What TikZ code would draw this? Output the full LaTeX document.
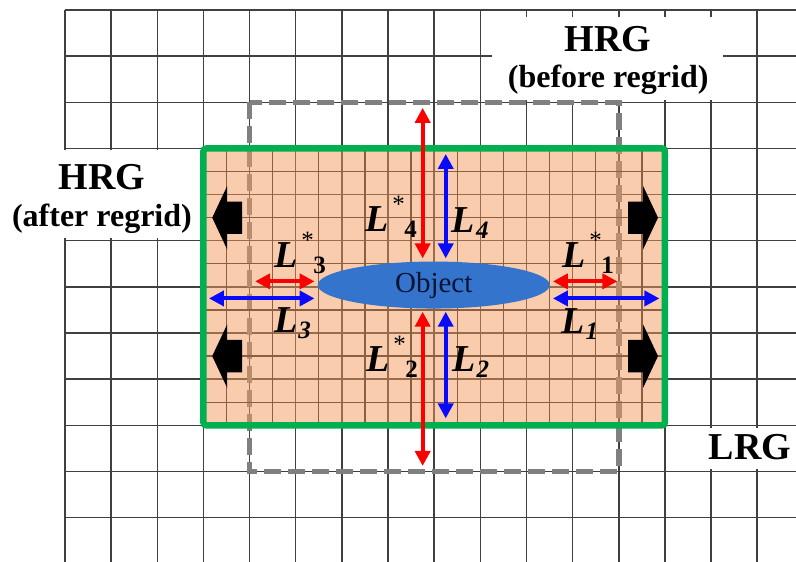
\documentclass[tikz,border=0pt]{standalone}
\usepackage{fontspec}
\setmainfont{Liberation Serif}
\usepackage{xcolor}
\usetikzlibrary{shapes.geometric,arrows.meta,positioning}

\definecolor{lrggreen}{RGB}{0,176,80}
\definecolor{hrgpeach}{RGB}{241,153,89}
\definecolor{objblue}{RGB}{52,116,204}
\definecolor{objtext}{RGB}{10,20,50}
\definecolor{oldgray}{RGB}{128,128,128}
\definecolor{lenred}{RGB}{250,0,0}
\definecolor{lenblue}{RGB}{10,10,250}

% L with star and index, and plain L with index
\newcommand{\Lst}[1]{\textbf{\textit{L}}\kern4bp\rlap{\raisebox{19bp}{\fontsize{25bp}{25bp}\selectfont *}}\kern12bp\raisebox{-6bp}{\fontsize{25bp}{25bp}\selectfont\textbf{#1}}}
\newcommand{\Lpl}[1]{\textbf{\textit{L}}\kern1bp\raisebox{-6bp}{\fontsize{25bp}{25bp}\selectfont\textbf{\textit{#1}}}}

\tikzset{
	coarse/.style={line width=1.5bp, black!75},
	fine/.style={line width=1.3bp, black!85},
	redlen/.style={line width=4bp, lenred, shorten >=3bp, {Triangle[length=15bp,width=15bp]}-{Triangle[length=15bp,width=15bp]}},
	bluelen/.style={line width=4bp, lenblue, shorten >=3bp, {Triangle[length=15bp,width=15bp]}-{Triangle[length=15bp,width=15bp]}},
	lenlabel/.style={anchor=base west, inner sep=0pt, font=\fontsize{38bp}{38bp}\selectfont},
	gridtitle/.style={anchor=base, inner sep=0pt, font=\fontsize{38bp}{38bp}\selectfont\bfseries},
	gridsub/.style={anchor=base, inner sep=0pt, font=\fontsize{32bp}{32bp}\selectfont\bfseries},
	blkarrow/.pic={\fill (0,0) -- (0.325,0.69) -- (0.325,0.35) -- (0.65,0.35) -- (0.65,-0.35) -- (0.325,-0.35) -- (0.325,-0.69) -- cycle;}
}

\begin{document}
\begin{tikzpicture}[x=46.15bp, y=-46.15bp]
	\useasboundingbox (-1.4085,-0.2167) rectangle (15.840,11.961);
	
	% LRG (coarse grid)
	\foreach \i in {0,...,15}
		\draw[coarse] (\i,0) -- (\i,11.961);
	\foreach \j in {0,...,11}
		\draw[coarse] (0,\j) -- (15.84,\j);
	
	% white boxes behind the titles
	\fill[white] (9.25,0.15) rectangle (14.26,1.95);
	\fill[white] (-1.41,3.03) rectangle (2.93,4.94);
	\fill[white] (13.3,9.05) rectangle (15.84,9.95);
	
	% HRG before regrid
	\draw[oldgray, line width=5.5bp, dash pattern=on 17bp off 7bp] (4,2) rectangle (12,10);
	
	% HRG after regrid (fine grid)
	\foreach \i in {3.5,4.5,...,12.5}
		\draw[fine] (\i,3) -- (\i,9);
	\foreach \j in {3.5,4.5,...,8.5}
		\draw[fine] (3,\j) -- (13,\j);
	\fill[hrgpeach, fill opacity=0.5] (3,3) rectangle (13,9);
	\draw[lrggreen, line width=6.5bp, rounded corners=3bp] (3,3) rectangle (13,9);
	
	% regrid directions
	\pic at (3.19,4.5) {blkarrow};
	\pic at (3.19,7.5) {blkarrow};
	\pic[xscale=-1] at (12.85,4.5) {blkarrow};
	\pic[xscale=-1] at (12.85,7.5) {blkarrow};
	
	% object
	\node[ellipse, fill=objblue, minimum width=232bp, minimum height=47bp, inner sep=0pt, text=objtext, font=\fontsize{29bp}{29bp}\selectfont] (obj) at (7.99,5.96) {Object};
	
	% distances
	\coordinate (a4r) at (7.75,2.12);
	\coordinate (a4b) at (8.25,3.12);
	\coordinate (a2r) at (7.75,9.88);
	\coordinate (a2b) at (8.25,8.85);
	\coordinate (a3r) at (4.12,5.88);
	\coordinate (a3b) at (3.12,6.25);
	\coordinate (a1r) at (11.97,5.88);
	\coordinate (a1b) at (12.88,6.25);
	\draw[redlen] (a4r) -- (obj.north -| a4r);
	\draw[bluelen] (a4b) -- (obj.north -| a4b);
	\draw[redlen] (a2r) -- (obj.south -| a2r);
	\draw[bluelen] (a2b) -- (obj.south -| a2b);
	\draw[redlen] (a3r) -- (obj.west |- a3r);
	\draw[bluelen] (a3b) -- (obj.west |- a3b);
	\draw[redlen] (a1r) -- (obj.east |- a1r);
	\draw[bluelen] (a1b) -- (obj.east |- a1b);
	
	\node[lenlabel] (l4s) at (6.50,4.81) {\Lst{4}};
	\node[lenlabel] (l4) at (8.38,4.83) {\Lpl{4}};
	\node[lenlabel] (l3s) at (4.53,5.57) {\Lst{3}};
	\node[lenlabel] (l3) at (4.53,6.98) {\Lpl{3}};
	\node[lenlabel] (l1s) at (10.77,5.57) {\Lst{1}};
	\node[lenlabel] (l1) at (10.75,7.0) {\Lpl{1}};
	\node[lenlabel] (l2s) at (6.52,7.84) {\Lst{2}};
	\node[lenlabel] (l2) at (8.39,7.84) {\Lpl{2}};
	
	% titles
	\node[gridtitle] (hrgold) at (11.77,0.91) {HRG};
	\node[gridsub] (hrgoldsub) at (11.77,1.67) {(before regrid)};
	\node[gridtitle] (hrgnew) at (0.80,3.90) {HRG};
	\node[gridsub] (hrgnewsub) at (0.80,4.70) {(after regrid)};
	\node[gridtitle] (lrg) at (14.84,9.75) {LRG};
\end{tikzpicture}
\end{document}
